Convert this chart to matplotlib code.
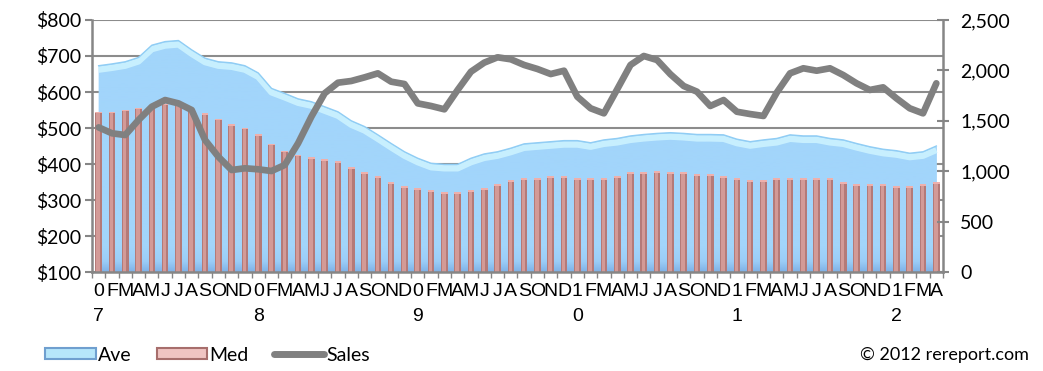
import numpy as np
import matplotlib
matplotlib.use('Agg')
import matplotlib.pyplot as plt
import matplotlib.transforms as mtransforms
from matplotlib.patches import Patch
from matplotlib.lines import Line2D
from matplotlib.ticker import FuncFormatter

# monthly figures, Jan 2007 - Apr 2012
years = ['07', '08', '09', '10', '11', '12']
month_letters = ['F', 'M', 'A', 'M', 'J', 'J', 'A', 'S', 'O', 'N', 'D']

ave = [673, 678, 684, 696, 730, 740, 743, 717, 694, 684, 681, 673,
       653, 610, 596, 581, 573, 559, 545, 520, 504, 481, 457, 434,
       416, 402, 399, 399, 416, 428, 434, 444, 456, 459, 462, 465,
       465, 459, 467, 471, 478, 482, 485, 487, 485, 482, 482, 481,
       469, 462, 467, 471, 481, 478, 478, 471, 467, 457, 448, 441,
       437, 430, 434, 450]

med = [545, 545, 550, 556, 565, 567, 565, 550, 541, 525, 510, 500,
       483, 456, 436, 425, 419, 413, 407, 391, 377, 366, 349, 338,
       332, 327, 321, 321, 327, 332, 344, 355, 360, 360, 366, 366,
       360, 360, 360, 366, 377, 377, 380, 377, 377, 371, 371, 366,
       360, 355, 355, 360, 360, 360, 360, 360, 349, 344, 344, 344,
       338, 338, 344, 349]

sales = [1435, 1376, 1359, 1508, 1640, 1706, 1673, 1607, 1310, 1144, 1012, 1029,
         1019, 1002, 1062, 1277, 1541, 1773, 1878, 1895, 1931, 1971, 1888, 1865,
         1673, 1647, 1614, 1806, 1987, 2077, 2130, 2110, 2054, 2014, 1964, 1997,
         1739, 1624, 1574, 1813, 2054, 2143, 2103, 1962, 1845, 1789, 1647, 1706,
         1590, 1567, 1548, 1780, 1971, 2021, 1997, 2021, 1954, 1872, 1806, 1832,
         1723, 1624, 1574, 1872]

labels = []
for yr in years:
    labels.append(yr[0] + '\n' + yr[1])
    labels += month_letters
labels = labels[:len(ave)]

x = np.arange(len(ave))
ave = np.array(ave)
med = np.array(med)
sales = np.array(sales)

plt.rcParams['font.family'] = ['Lato', 'DejaVu Sans']
grey = '#868686'

fig = plt.figure(figsize=(10.43, 3.71), dpi=100)
ax = fig.add_axes([0.0882, 0.2668, 0.8159, 0.6793])
ax.set_xlim(-0.5, len(ave) - 0.5)
ax.set_ylim(100, 800)

# gridlines under everything
ax.set_axisbelow(True)
ax.yaxis.grid(True, color='#8c8c8c', linewidth=1.5)

# Ave area: flat light blue, darker only right at the base, pale band on top
area = ax.fill_between(x, 100, ave, color='#a2d5fb', linewidth=0, zorder=1)
grad = np.linspace(0, 1, 256).reshape(-1, 1)
cmap = matplotlib.colors.LinearSegmentedColormap.from_list(
    'ave', [(0.0, '#80b2e6'), (0.04, '#9bcdf7'), (0.1, '#a2d5fb'), (1.0, '#a2d5fb')])
img = ax.imshow(grad, cmap=cmap, aspect='auto', origin='lower',
                extent=[-0.5, len(ave) - 0.5, 100, 800], zorder=1)
img.set_clip_path(area.get_paths()[0], transform=ax.transData)
band = mtransforms.offset_copy(ax.transData, fig=fig, x=0, y=-4, units='dots')
ax.plot(x, ave, color='#ccf2ff', linewidth=4.5, transform=band, zorder=1.5,
        solid_capstyle='butt', alpha=0.9)
ax.plot(x, ave, color='#90cdf4', linewidth=1.0, zorder=1.6)

# Med bars: darker body, lighter centre strip and cap
ax.bar(x, med - 100, bottom=100, width=0.5, color='#b47a78', zorder=2)
ax.bar(x - 0.04, med - 100, bottom=100, width=0.26, color='#d39a97', zorder=2.1)
ax.bar(x, 4, bottom=med - 4, width=0.5, color='#eeb0ac', zorder=2.2)

ax.set_yticks(np.arange(100, 801, 100))
ax.yaxis.set_major_formatter(FuncFormatter(lambda v, p: '${:,.0f}'.format(v)))
ax.tick_params(axis='y', length=5, width=1.5, color=grey, labelsize=14, pad=3)

ax.set_xticks(x)
ax.set_xticklabels(labels, fontsize=14, linespacing=1.6,
                   family=['Liberation Sans Narrow', 'Liberation Sans'])
ax.set_xticks(np.arange(-0.5, len(ave), 1), minor=True)
ax.tick_params(axis='x', which='major', length=0, pad=8)
ax.tick_params(axis='x', which='minor', length=4, width=1, color=grey)

for side in ['top', 'right']:
    ax.spines[side].set_visible(False)
for side in ['left', 'bottom']:
    ax.spines[side].set_color(grey)
    ax.spines[side].set_linewidth(1.8)

# Sales on the right axis
ax2 = ax.twinx()
ax2.set_ylim(0, 2500)
ax2.plot(x, sales, color='#808080', linewidth=4.8, solid_joinstyle='round',
         solid_capstyle='round', zorder=3)
ax2.set_yticks(np.arange(0, 2501, 500))
ax2.yaxis.set_major_formatter(FuncFormatter(lambda v, p: '{:,.0f}'.format(v)))
ax2.tick_params(axis='y', direction='inout', length=9, width=1.5, color=grey,
                labelsize=14, pad=8)
for side in ['top', 'left', 'bottom']:
    ax2.spines[side].set_visible(False)
ax2.spines['right'].set_color(grey)
ax2.spines['right'].set_linewidth(1.8)

handles = [
    Patch(facecolor='#b6e6fa', edgecolor='#6f9fcf', linewidth=1.5),
    Patch(facecolor='#f0c4c2', edgecolor='#a76e6c', linewidth=1.5),
    Line2D([0], [0], color='#808080', linewidth=5, solid_capstyle='round'),
]
fig.legend(handles, ['Ave', 'Med', 'Sales'], loc='center left',
           bbox_to_anchor=(0.036, 0.043), ncol=3, frameon=False, fontsize=14,
           handlelength=2.6, handleheight=0.45, handletextpad=0.1,
           columnspacing=1.3, borderaxespad=0)

fig.text(0.986, 0.043, '\u00a9 2012 rereport.com', ha='right', va='center',
         fontsize=13)

fig.savefig('out.png', dpi=100)
